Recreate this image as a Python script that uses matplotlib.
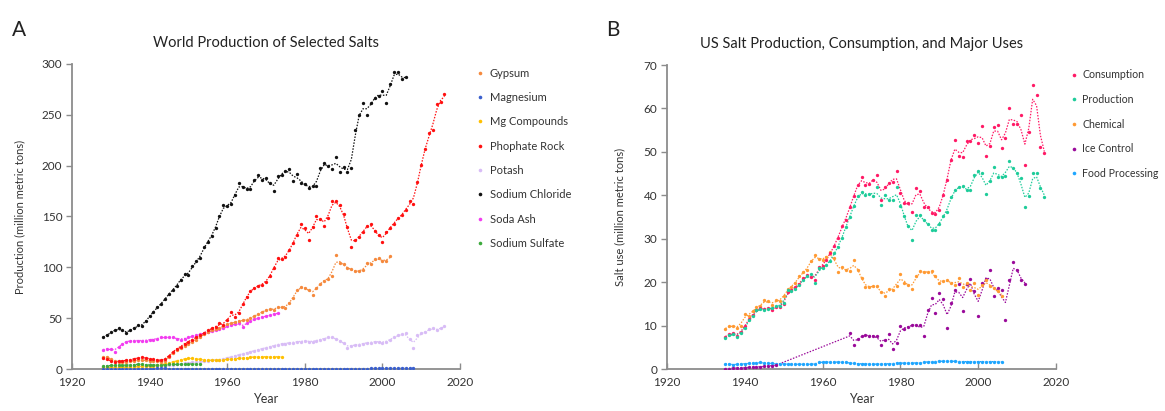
import numpy as np
import matplotlib
matplotlib.use("Agg")
import matplotlib.pyplot as plt
from matplotlib.lines import Line2D

plt.rcParams['font.family'] = ['Lato', 'DejaVu Sans']

# ---------------- Panel A data (million metric tons) ----------------
gypsum_start = 1928
gypsum = [12, 12, 10, 8, 7, 6.5, 7, 7.5, 8, 9, 9, 8.5, 8, 8, 7.5, 7, 8, 12, 16, 19,
          21, 23, 25, 27, 29, 31, 34, 36, 38, 39, 40, 42, 44, 45, 46, 47, 48, 48, 50, 52,
          54, 56, 58, 59, 58, 61, 61, 60, 65, 70, 78, 81, 80, 78, 73, 80, 84, 87, 89, 91,
          112, 104, 103, 99, 98, 96, 96, 97, 104, 103, 108, 109, 106, 106, 111]

magnesium_start = 1928
magnesium = [0.1, 0.1, 0.1, 0.1, 0.1, 0.1, 0.1, 0.1, 0.1, 0.1, 0.1, 0.2, 0.3, 0.4, 0.5, 0.6, 0.5, 0.3,
             0.2, 0.2, 0.2, 0.2, 0.2, 0.3, 0.3, 0.3, 0.3, 0.3, 0.3, 0.3, 0.3, 0.3, 0.3, 0.3, 0.3, 0.3,
             0.3, 0.3, 0.3, 0.3, 0.3, 0.3, 0.3, 0.3, 0.3, 0.3, 0.3, 0.3, 0.3, 0.3, 0.3, 0.3, 0.3, 0.3,
             0.3, 0.3, 0.3, 0.3, 0.3, 0.3, 0.3, 0.3, 0.3, 0.4, 0.4, 0.4, 0.4, 0.4, 0.4, 0.5, 0.5, 0.5,
             0.5, 0.6, 0.6, 0.6, 0.6, 0.6, 0.7, 0.7, 0.7]

mgcomp_start = 1928
mg_compounds = [1.5, 1.5, 1.5, 1.5, 1.5, 1.5, 2, 2, 2, 2.5, 2.5, 2.5, 3, 3, 3.5, 4, 5, 6, 7, 8,
                9, 10, 10.5, 10.5, 10, 9.5, 9, 8.5, 8.5, 9, 9, 9, 9.5, 10, 10, 10.5, 11, 11, 11.5,
                12, 12, 12, 12, 12, 12, 12, 12]

phosphate_start = 1928
phosphate = [11, 9.5, 8, 7, 7.5, 8, 8.5, 9, 10, 11, 11.5, 11, 10, 9.5, 8.5, 8.5, 9.5, 13, 17, 20,
             22, 25, 27, 29, 31, 33, 35, 38, 40, 41, 45, 43, 48, 56, 51, 55, 64, 71, 77, 80,
             82, 83, 86, 91, 99, 109, 108, 110, 117, 124, 132, 143, 139, 127, 140, 150, 148, 141, 149, 165,
             165, 161, 152, 140, 120, 127, 130, 135, 141, 143, 136, 132, 125, 135, 139, 143, 149, 151, 156, 165,
             162, 184, 201, 216, 232, 235, 261, 263, 270]

potash_start = 1928
potash = [2, 2, 2, 2, 2, 2, 2.5, 2.5, 3, 3, 3, 3, 3, 3, 3, 3, 3, 3.5, 4, 4.5,
          5, 5.5, 6, 6.5, 7, 7, 7.5, 8, 8.5, 9, 9, 10, 11, 12, 13, 14, 15, 16, 17, 18,
          19, 20, 21, 22, 23, 24, 25, 25, 26, 26, 27, 27, 28, 27, 27, 28, 29, 30, 31, 31,
          30, 28, 26, 21, 23, 24, 24, 25, 26, 26, 27, 27, 26, 27, 29, 31, 33, 34, 35, 30,
          21, 33, 35, 36, 39, 40, 38, 40, 42]

nacl_start = 1928
sodium_chloride = [31, 33, 36, 38, 40, 38, 35, 38, 40, 43, 42, 47, 52, 56, 61, 64, 69, 74, 78, 82,
                   88, 93, 92, 101, 106, 109, 120, 125, 131, 139, 150, 161, 160, 162, 171, 183, 179, 177, 177, 186,
                   191, 186, 188, 183, 175, 190, 191, 195, 197, 185, 192, 183, 182, 178, 180, 180, 198, 203, 200, 197,
                   209, 194, 199, 194, 198, 235, 250, 262, 250, 262, 267, 269, 273, 262, 280, 292, 292, 285, 287]

sodaash_start = 1928
soda_ash = [19, 19.5, 20, 17, 22, 25, 27, 28, 28, 28, 28, 28, 29, 29, 30, 31, 31, 31, 31, 30,
            29, 30, 31, 32, 33, 34, 35, 36, 37, 38, 39, 40, 42, 43, 44, 45, 41, 45, 47, 49,
            50, 51, 52, 53, 54, 55]

sulfate_start = 1928
sodium_sulfate = [3, 3, 3.5, 3.5, 3.5, 3.5, 4, 4, 4, 5, 4.5, 4, 4, 4, 4, 4, 4, 4.5, 4.5, 4.5,
                  4.5, 5, 5, 5, 5, 5]

# ---------------- Panel B data (million metric tons) ----------------
consumption_start = 1935
consumption = [7.3, 8, 8.3, 7.6, 8.6, 9.8, 11.5, 12.4, 13.7, 14, 13.9, 14, 13.6, 14.3, 14.2, 15,
               17.8, 18.1, 18.8, 19.6, 20.9, 21.6, 21.2, 20.5, 23.5, 23.7, 25.2, 26.6, 28.4, 30.2, 33, 34.4,
               37.3, 39.8, 42.4, 44.3, 42.4, 42.6, 43.5, 44.7, 38.9, 42, 42.8, 43.1, 45.7, 40.6, 38.2, 38.2,
               36.2, 41.6, 41.1, 37.4, 37.4, 35.9, 35.7, 36.7, 40.1, 43.5, 48.1, 52.7, 49, 48.9, 52.4, 52.4,
               53.9, 52, 56, 49, 51.4, 55.8, 56.2, 50.8, 53.3, 60, 56.5, 56.4, 58.5, 47, 54.6, 65.4,
               63, 51.2, 49.7]

production_start = 1935
production = [7.1, 7.9, 8.1, 7.4, 8.3, 9.4, 11.2, 12.1, 13.5, 13.8, 13.7, 13.8, 14, 14.4, 14.6, 15.2,
              18.3, 17.9, 18.4, 19.4, 20.6, 21.3, 21.9, 19.8, 23.3, 23.3, 24, 24.8, 26.6, 28.2, 30.2, 32.8,
              35.1, 37.5, 39.8, 40.8, 40.1, 40.4, 39.8, 42, 37.7, 40.1, 38.9, 38.9, 42, 37.6, 35.2, 32.9,
              29.7, 35.4, 35.4, 34.3, 33.5, 32.1, 32.1, 33.5, 35.2, 36.2, 39.7, 41.2, 42, 42.1, 41.2, 41.2,
              44.7, 45.7, 45.2, 40.3, 43.4, 46.4, 44.3, 44.3, 44.4, 48, 46.2, 45.1, 43.9, 37.2, 39.8, 45.2,
              45.1, 41.6, 39.5]

chemical_start = 1935
chemical = [9.1, 10, 10, 9.4, 10, 12.7, 12.1, 13.3, 14.3, 14.4, 15.8, 15.6, 14.8, 15.8, 15.6, 16.7,
            18.4, 18.9, 19.8, 21.3, 22.3, 22.9, 24.8, 26.3, 25.3, 25, 25.9, 26.9, 25.6, 22.3, 23.6, 22.7,
            22.5, 25, 22.9, 21, 18.9, 18.9, 19, 19.2, 17.7, 16.9, 18.4, 18.1, 19.2, 21.9, 19.8, 19.4,
            18.4, 21.3, 22.5, 22.3, 22.3, 22.5, 21.3, 19.8, 20.2, 20.6, 19.8, 19.4, 21, 18.9, 19.8, 18.3,
            19.8, 17.1, 19.4, 20.6, 19, 18.6, 18, 16.9]

ice_years = list(range(1935, 1949)) + list(range(1967, 2013))
ice_control = [0.1, 0.1, 0.2, 0.2, 0.3, 0.3, 0.4, 0.4, 0.5, 0.5, 0.6, 0.7, 0.8, 0.9,
               8.3, 5.6, 6.9, 7.5, 7.9, 7.7, 7.6, 7.7, 5.6, 6.6, 8.1, 4.5, 6, 10, 9.1, 9.7,
               10.2, 10.2, 10.2, 7.7, 13.5, 16.3, 12.9, 17.5, 16.1, 9.4, 15.2, 18.1, 19.6, 13.3, 19.6, 20.7,
               17.9, 12.3, 19.8, 20.7, 22.7, 16.9, 18.6, 18.3, 11.2, 20.6, 24.6, 22.9, 20.6, 19.6]

food_start = 1935
food_processing = [1.2, 1.2, 0.9, 1.1, 1.2, 1.2, 1.3, 1.3, 1.4, 1.5, 1.4, 1.3, 1.3, 1.2, 1.2, 1.2,
                   1.1, 1.1, 1.1, 1.1, 1.1, 1.1, 1.1, 1.1, 1.5, 1.6, 1.6, 1.6, 1.6, 1.6, 1.6, 1.6,
                   1.3, 1.3, 1.2, 1.2, 1.2, 1.2, 1.1, 1.1, 1.2, 1.2, 1.2, 1.2, 1.4, 1.4, 1.3, 1.4,
                   1.4, 1.4, 1.4, 1.5, 1.7, 1.7, 1.7, 1.8, 1.8, 1.8, 1.8, 1.8, 1.7, 1.7, 1.7, 1.7,
                   1.7, 1.7, 1.7, 1.7, 1.7, 1.7, 1.7, 1.7]

labels_a = ["Gypsum", "Magnesium", "Mg Compounds", "Phophate Rock", "Potash",
            "Sodium Chloride", "Soda Ash", "Sodium Sulfate"]
colors_a = ["#F5893D", "#3A5FCD", "#FFC000", "#FF1010", "#D8BCF6",
            "#111111", "#F23CF0", "#3CAA3C"]
labels_b = ["Consumption", "Production", "Chemical", "Ice Control", "Food Processing"]
colors_b = ["#FF1A66", "#1ECC9A", "#FF9A33", "#9A0A9A", "#1EA6FF"]


def smooth(years, v):
    """Light 1-2-1 smoothing; neighbours across a gap in years are not used."""
    y = np.asarray(years, dtype=float)
    v = np.asarray(v, dtype=float)
    out = v.copy()
    for i in range(len(v)):
        left = v[i - 1] if i > 0 and y[i] - y[i - 1] <= 1 else v[i]
        right = v[i + 1] if i < len(v) - 1 and y[i + 1] - y[i] <= 1 else v[i]
        out[i] = 0.25 * left + 0.5 * v[i] + 0.25 * right
    return out


def draw(ax, years, vals, color):
    ax.plot(years, smooth(years, vals), ls=(0, (1.2, 1.2)), lw=0.9, color=color, zorder=2)
    ax.plot(years, vals, ls='', marker='o', ms=2.4, mec='none', color=color, zorder=3)


W, H = 1165, 411
fig = plt.figure(figsize=(W / 100, H / 100), dpi=100)

axA = fig.add_axes([72 / W, 1 - 369 / H, 388 / W, 305 / H])
axB = fig.add_axes([667 / W, 1 - 369 / H, 389 / W, 304 / H])

series_a = [
    (gypsum_start, gypsum), (magnesium_start, magnesium), (mgcomp_start, mg_compounds),
    (phosphate_start, phosphate), (potash_start, potash), (nacl_start, sodium_chloride),
    (sodaash_start, soda_ash), (sulfate_start, sodium_sulfate)]
order_a = [4, 2, 7, 1, 6, 0, 3, 5]
for i in order_a:
    s, v = series_a[i]
    draw(axA, np.arange(s, s + len(v)), v, colors_a[i])

series_b = [
    (np.arange(consumption_start, consumption_start + len(consumption)), consumption),
    (np.arange(production_start, production_start + len(production)), production),
    (np.arange(chemical_start, chemical_start + len(chemical)), chemical),
    (np.array(ice_years), ice_control),
    (np.arange(food_start, food_start + len(food_processing)), food_processing)]
for i in [4, 3, 2, 0, 1]:
    yrs, v = series_b[i]
    draw(axB, yrs, v, colors_b[i])

for ax, ymax, ystep in [(axA, 300, 50), (axB, 70, 10)]:
    ax.set_xlim(1920, 2020)
    ax.set_ylim(0, ymax)
    ax.set_xticks(np.arange(1920, 2021, 20))
    ax.set_yticks(np.arange(0, ymax + 1, ystep))
    for sp in ['top', 'right']:
        ax.spines[sp].set_visible(False)
    for sp in ['left', 'bottom']:
        ax.spines[sp].set_color('#8C8C8C')
        ax.spines[sp].set_linewidth(1.3)
    ax.tick_params(axis='x', direction='in', length=4, width=1, color='#8C8C8C',
                   labelsize=8.5, labelcolor='#333333', pad=6)
    ax.tick_params(axis='y', direction='out', length=4, width=1, color='#8C8C8C',
                   labelsize=8.5, labelcolor='#333333', pad=3)
    ax.set_xlabel("Year", fontsize=9, color='#333333', labelpad=3)

axA.set_ylabel("Production (million metric tons)", fontsize=8, color='#333333', labelpad=12)
axB.set_ylabel("Salt use (million metric tons)", fontsize=8, color='#333333', labelpad=13)

axA.set_title("World Production of Selected Salts", fontsize=10.5, color='#222222', pad=12)
axB.set_title("US Salt Production, Consumption, and Major Uses", fontsize=10.5, color='#222222', pad=12)

fig.text(12 / W, 1 - 30 / H, "A", fontsize=15, va='center', ha='left', color='#222222')
fig.text(606 / W, 1 - 30 / H, "B", fontsize=15, va='center', ha='left', color='#222222')

ha = [Line2D([], [], ls='', marker='o', ms=2.6, mec='none', color=c) for c in colors_a]
fig.legend(ha, labels_a, loc='upper left', bbox_to_anchor=(470 / W, 1 - 62 / H),
           frameon=False, fontsize=8, labelspacing=1.2, handlelength=0.8,
           handletextpad=0.5, borderpad=0, labelcolor='#333333')
hb = [Line2D([], [], ls='', marker='o', ms=2.6, mec='none', color=c) for c in colors_b]
fig.legend(hb, labels_b, loc='upper left', bbox_to_anchor=(1064 / W, 1 - 64 / H),
           frameon=False, fontsize=7.6, labelspacing=1.3, handlelength=0.8,
           handletextpad=0.45, borderpad=0, labelcolor='#333333')

fig.savefig("out.png", dpi=100)
